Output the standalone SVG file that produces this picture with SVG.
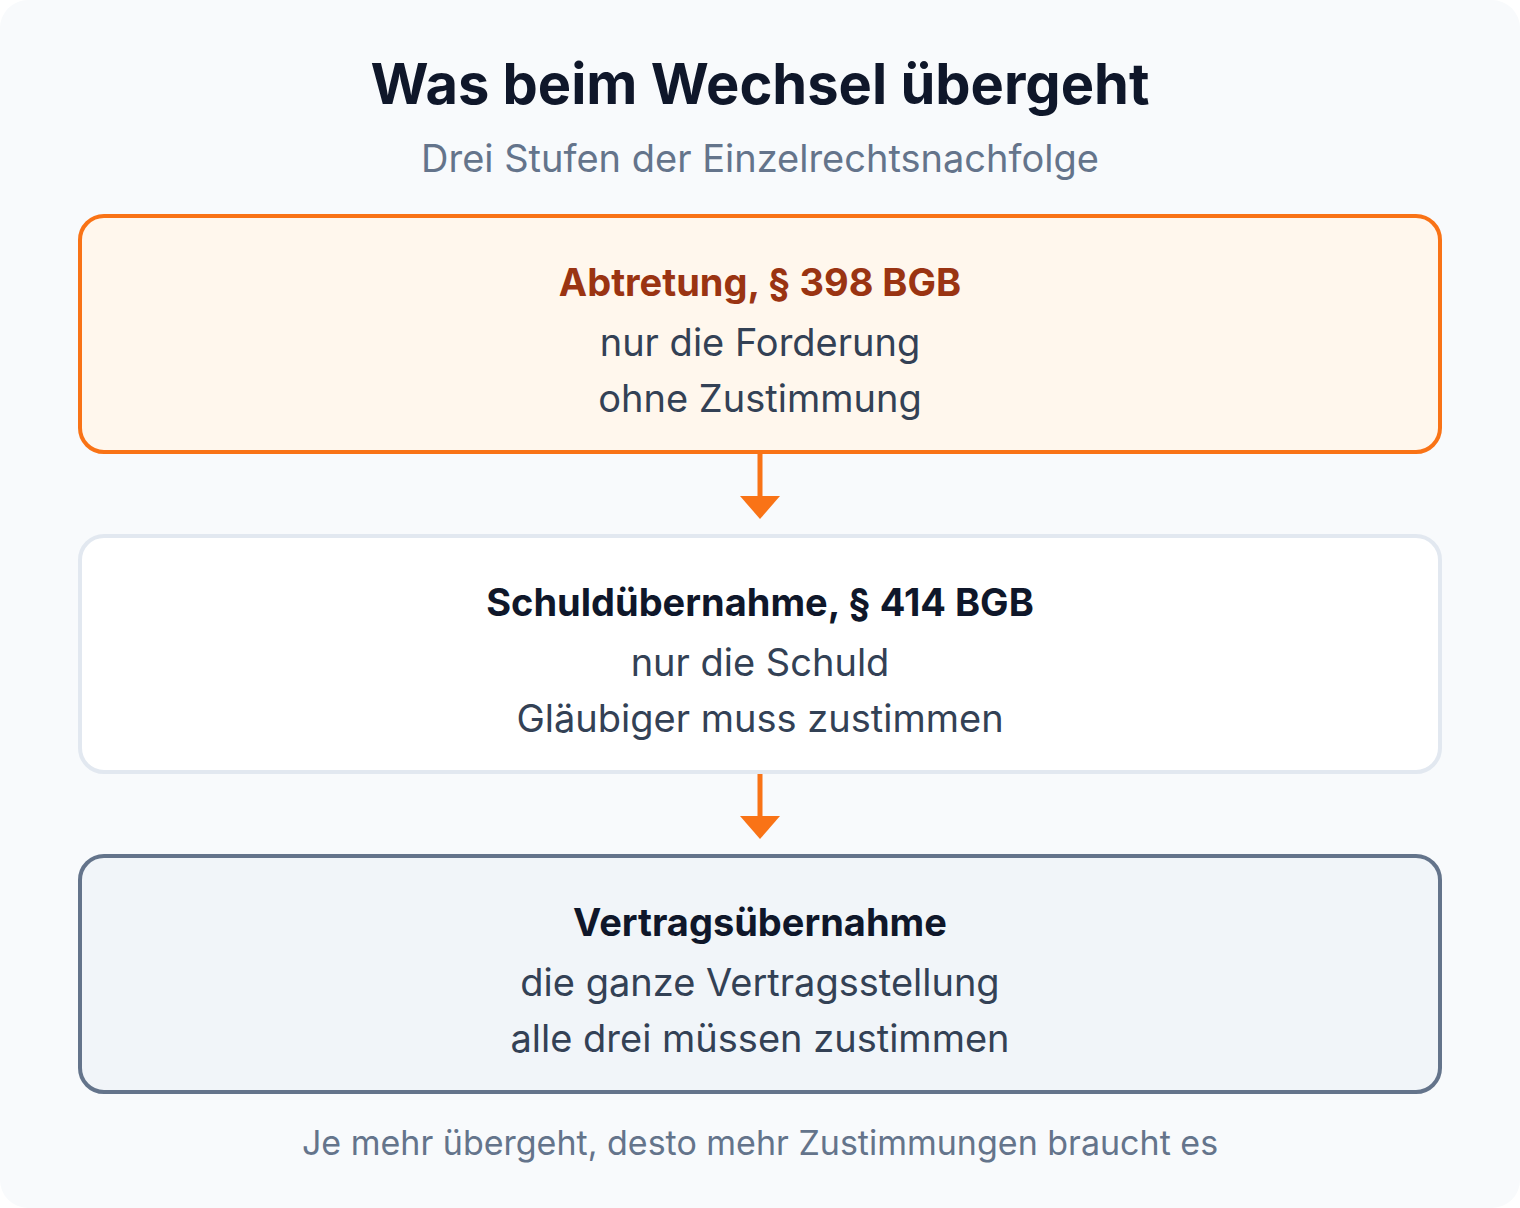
<svg xmlns="http://www.w3.org/2000/svg" width="1520" height="1208" viewBox="0 0 1520 1208">
<style>
text{font-family:Inter,"Noto Sans","Liberation Sans",sans-serif;text-anchor:middle}
.title{font-size:56px;font-weight:700;fill:#0f172a}
.sub{font-size:38px;fill:#64748b}
.h{font-size:38px;font-weight:700;fill:#0f172a}
.b{font-size:38px;fill:#334155}
.foot{font-size:34px;fill:#64748b}
.box{stroke-width:4}
.conn{stroke:#f97316;stroke-width:5;fill:none}
</style>
<rect x="0" y="0" width="1520" height="1208" rx="28" fill="#f8fafc"/>
<text class="title" x="760" y="104">Was beim Wechsel übergeht</text>
<text class="sub" x="760" y="172">Drei Stufen der Einzelrechtsnachfolge</text>
<g id="node-abtretung">
<rect class="box" x="80" y="216" width="1360" height="236" rx="24" fill="#fff7ed" stroke="#f97316"/>
<text class="h" x="760" y="296" style="fill:#9a3412">Abtretung, § 398 BGB</text>
<text class="b" x="760" y="356">nur die Forderung</text>
<text class="b" x="760" y="412">ohne Zustimmung</text>
</g>
<g id="node-schuld">
<rect class="box" x="80" y="536" width="1360" height="236" rx="24" fill="#ffffff" stroke="#e2e8f0"/>
<text class="h" x="760" y="616">Schuldübernahme, § 414 BGB</text>
<text class="b" x="760" y="676">nur die Schuld</text>
<text class="b" x="760" y="732">Gläubiger muss zustimmen</text>
</g>
<g id="node-vertrag">
<rect class="box" x="80" y="856" width="1360" height="236" rx="24" fill="#f1f5f9" stroke="#64748b"/>
<text class="h" x="760" y="936">Vertragsübernahme</text>
<text class="b" x="760" y="996">die ganze Vertragsstellung</text>
<text class="b" x="760" y="1052">alle drei müssen zustimmen</text>
</g>
<g id="connectors">
<line class="conn" x1="760" y1="454" x2="760" y2="498"/>
<polygon points="740,496 780,496 760,519" fill="#f97316"/>
<line class="conn" x1="760" y1="774" x2="760" y2="818"/>
<polygon points="740,816 780,816 760,839" fill="#f97316"/>
</g>
<text class="foot" x="760" y="1155">Je mehr übergeht, desto mehr Zustimmungen braucht es</text>
</svg>
